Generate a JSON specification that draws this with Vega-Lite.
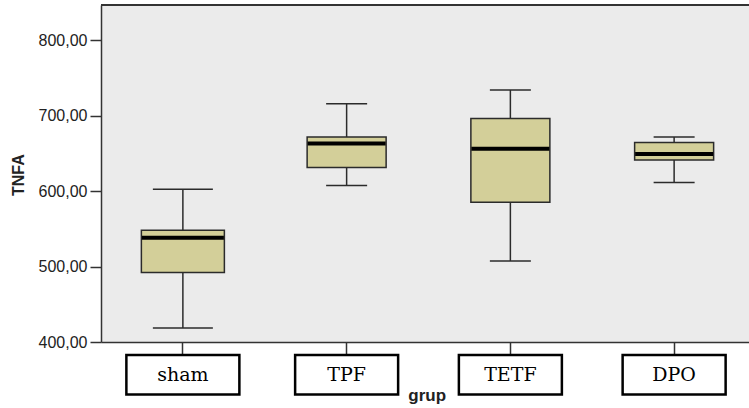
{
  "$schema": "https://vega.github.io/schema/vega-lite/v6.json",
  "autosize": "none",
  "padding": {"left": 101, "top": 5, "right": 0, "bottom": 66},
  "width": 648,
  "height": 337,
  "background": "white",
  "config": {"view": {"fill": "#ebebeb", "stroke": null}},
  "data": {
    "values": [
      {"grup": "sham", "lower": 418.6, "q1": 492, "median": 538, "q3": 548, "upper": 602.5},
      {"grup": "TPF", "lower": 607.4, "q1": 631, "median": 663, "q3": 671.5, "upper": 715.6},
      {"grup": "TETF", "lower": 507.4, "q1": 585, "median": 656, "q3": 696, "upper": 733.8},
      {"grup": "DPO", "lower": 611.4, "q1": 641, "median": 649, "q3": 664.4, "upper": 671.5}
    ]
  },
  "layer": [
    {
      "mark": {"type": "rule", "color": "#2b2b2b", "strokeWidth": 1.5},
      "encoding": {
        "x": {
          "field": "grup", "type": "nominal", "sort": ["sham", "TPF", "TETF", "DPO"],
          "scale": {"range": [0, 655], "paddingInner": 0, "paddingOuter": 0},
          "axis": {
            "labels": false, "domain": true, "domainColor": "#333333", "domainWidth": 1.5,
            "ticks": true, "tickSize": 13, "tickColor": "#333333", "tickWidth": 1.5,
            "title": "grup", "titleFont": "Liberation Sans", "titleFontSize": 17, "titleFontWeight": "bold",
            "titleColor": "#222222", "titleX": 325.7, "titleY": 58, "titleAlign": "center", "titleBaseline": "alphabetic"
          }
        },
        "y": {
          "field": "lower", "type": "quantitative", "title": "TNFA",
          "scale": {"domain": [400, 846.4], "nice": false, "zero": false},
          "axis": {
            "values": [400, 500, 600, 700, 800],
            "labelExpr": "replace(format(datum.value, '.2f'), '.', ',')",
            "labelFont": "Liberation Sans", "labelFontSize": 16, "labelColor": "#222222", "labelPadding": 3,
            "tickSize": 11, "tickColor": "#333333", "tickWidth": 1.5,
            "domainColor": "#333333", "domainWidth": 1.5, "grid": false,
            "titleFont": "Liberation Sans", "titleFontSize": 16, "titleFontWeight": "bold", "titleColor": "#222222",
            "titleX": -83, "titleY": 169.7, "titleBaseline": "middle", "titleAlign": "center"
          }
        },
        "y2": {"field": "upper"}
      }
    },
    {
      "mark": {"type": "tick", "color": "#2b2b2b", "thickness": 1.5, "opacity": 1},
      "encoding": {
        "x": {"field": "grup", "type": "nominal", "sort": ["sham", "TPF", "TETF", "DPO"]},
        "y": {"field": "lower", "type": "quantitative", "title": "TNFA"},
        "size": {"condition": {"test": "datum.grup === 'sham'", "value": 60}, "value": 41}
      }
    },
    {
      "mark": {"type": "tick", "color": "#2b2b2b", "thickness": 1.5, "opacity": 1},
      "encoding": {
        "x": {"field": "grup", "type": "nominal", "sort": ["sham", "TPF", "TETF", "DPO"]},
        "y": {"field": "upper", "type": "quantitative", "title": "TNFA"},
        "size": {"condition": {"test": "datum.grup === 'sham'", "value": 60}, "value": 41}
      }
    },
    {
      "mark": {"type": "bar", "fill": "#d3cf99", "stroke": "#2b2b2b", "strokeWidth": 1.5, "opacity": 1},
      "encoding": {
        "x": {"field": "grup", "type": "nominal", "sort": ["sham", "TPF", "TETF", "DPO"]},
        "y": {"field": "q1", "type": "quantitative", "title": "TNFA"},
        "y2": {"field": "q3"},
        "size": {"condition": {"test": "datum.grup === 'sham'", "value": 83}, "value": 79}
      }
    },
    {
      "mark": {"type": "tick", "color": "#000000", "thickness": 4, "opacity": 1},
      "encoding": {
        "x": {"field": "grup", "type": "nominal", "sort": ["sham", "TPF", "TETF", "DPO"]},
        "y": {"field": "median", "type": "quantitative", "title": "TNFA"},
        "size": {"condition": {"test": "datum.grup === 'sham'", "value": 82}, "value": 78}
      }
    },
    {
      "mark": {"type": "bar", "fill": "white", "stroke": "#000000", "strokeWidth": 2.5, "opacity": 1},
      "encoding": {
        "x": {"field": "grup", "type": "nominal", "sort": ["sham", "TPF", "TETF", "DPO"]},
        "y": {"datum": 382.8},
        "y2": {"datum": 330.5},
        "size": {"condition": {"test": "datum.grup === 'sham'", "value": 113}, "value": 103}
      }
    },
    {
      "mark": {"type": "text", "font": "DejaVu Serif", "fontSize": 19, "baseline": "middle", "align": "center", "color": "#000000"},
      "encoding": {
        "x": {"field": "grup", "type": "nominal", "sort": ["sham", "TPF", "TETF", "DPO"]},
        "y": {"datum": 356},
        "text": {"field": "grup"}
      }
    },
    {
      "mark": {"type": "rule", "color": "#333333", "strokeWidth": 1.5},
      "encoding": {"y": {"datum": 846.4}}
    }
  ]
}
